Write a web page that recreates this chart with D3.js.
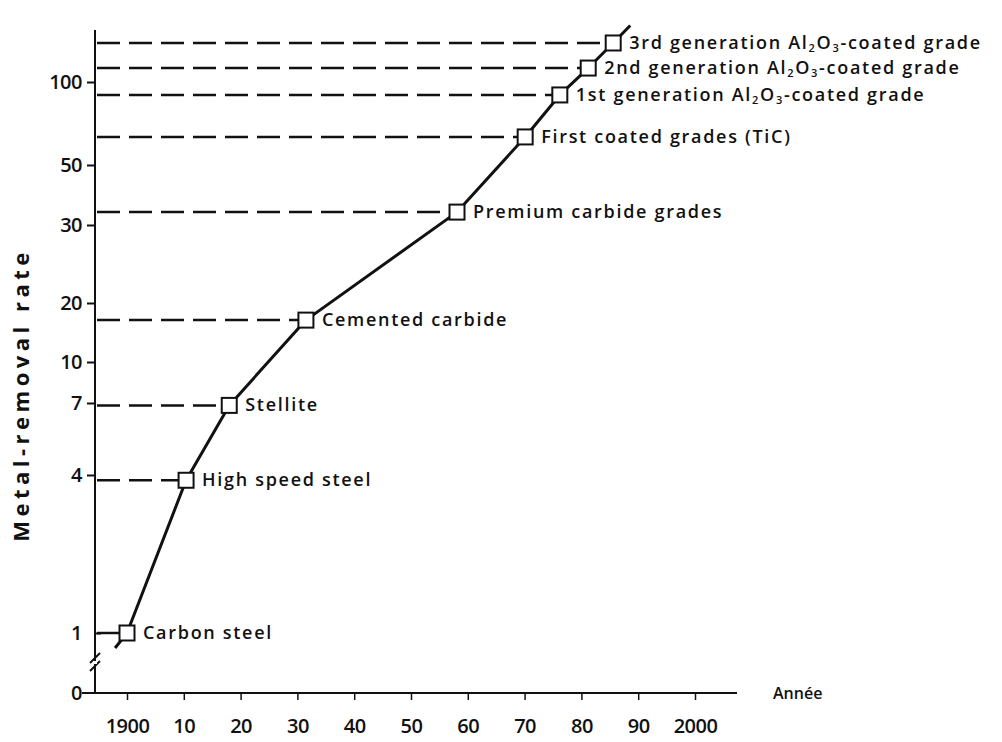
<!DOCTYPE html>
<html>
<head>
<meta charset="utf-8">
<script src="https://cdn.jsdelivr.net/npm/d3@7"></script>
<style>
  html, body { margin: 0; padding: 0; background: #fff; }
  svg { display: block; }
  text { font-family: "Open Sans", "DejaVu Sans", sans-serif; fill: #111; }
</style>
</head>
<body>
<svg id="chart" width="1002" height="742"></svg>
<script>
// ---- Data ----
const gradeNames = [
  "Carbon steel",
  "High speed steel",
  "Stellite",
  "Cemented carbide",
  "Premium carbide grades",
  "First coated grades (TiC)",
  "1st generation Al2O3-coated grade",
  "2nd generation Al2O3-coated grade",
  "3rd generation Al2O3-coated grade"
];
const gradeYears  = [1900, 1910.4, 1918, 1931.5, 1958.1, 1970.1, 1976.2, 1981.2, 1985.6];
const gradeValues = [1, 3.9, 6.9, 17.1, 34.3, 66.9, 92.2, 108.4, 123.5];

// trend line extends slightly beyond the first and last grade
const trendYears  = [1897.9, 1900, 1910.4, 1918, 1931.5, 1958.1, 1970.1, 1976.2, 1981.2, 1985.6, 1988.6];
const trendValues = [0.75, 1, 3.9, 6.9, 17.1, 34.3, 66.9, 92.2, 108.4, 123.5, 134];

const yTickValues = [0, 1, 4, 7, 10, 20, 30, 50, 100];
const xTickValues = [1900, 1910, 1920, 1930, 1940, 1950, 1960, 1970, 1980, 1990, 2000];
const xTickLabels = ["1900", "10", "20", "30", "40", "50", "60", "70", "80", "90", "2000"];

const yAxisTitle = "Metal-removal rate";
const xAxisTitle = "Année";

// ---- Layout ----
const svg = d3.select("#chart");
const axisX = 95;      // vertical axis position
const axisY = 693;     // horizontal axis position

const x = d3.scaleLinear().domain([1900, 2000]).range([127, 695]);
// the original axis is not uniform: piecewise scale through its tick marks
const y = d3.scaleLinear()
  .domain(yTickValues)
  .range([693, 633, 475, 403, 362, 303, 225, 165, 82]);

// ---- Axes ----
svg.append("line")
  .attr("x1", axisX).attr("x2", axisX)
  .attr("y1", 30).attr("y2", axisY)
  .attr("stroke", "#111").attr("stroke-width", 2);
// break marks
[658, 666].forEach(v => {
  svg.append("line")
    .attr("x1", axisX - 5).attr("y1", v + 5)
    .attr("x2", axisX + 5).attr("y2", v - 5)
    .attr("stroke", "#111").attr("stroke-width", 2);
});
svg.append("rect").attr("x", axisX - 2).attr("y", 661).attr("width", 4).attr("height", 3).attr("fill", "#fff");

const yAxis = d3.axisLeft(y).tickValues(yTickValues).tickSize(8).tickPadding(5)
  .tickFormat(d3.format("d"));
const gy = svg.append("g").attr("transform", `translate(${axisX},0)`).call(yAxis);
gy.select(".domain").remove();
gy.selectAll(".tick line").attr("stroke", "#111").attr("stroke-width", 2);
gy.selectAll(".tick text")
  .style("font-size", "20px").style("font-weight", "600")
  .style("letter-spacing", "-0.5px")
  .attr("fill", "#111");
gy.selectAll(".tick").filter(d => d === 1).select("line").attr("x2", 6);
gy.selectAll(".tick").filter(d => d === 0).select("line").remove();

// horizontal axis
svg.append("line")
  .attr("x1", 82).attr("x2", 737)
  .attr("y1", axisY).attr("y2", axisY)
  .attr("stroke", "#111").attr("stroke-width", 2);
const xAxis = d3.axisBottom(x).tickValues(xTickValues).tickSize(7).tickPadding(19)
  .tickFormat((d, i) => xTickLabels[i]);
const gx = svg.append("g").attr("transform", `translate(0,${axisY})`).call(xAxis);
gx.select(".domain").remove();
gx.selectAll(".tick line").attr("stroke", "#111").attr("stroke-width", 1.5);
gx.selectAll(".tick text")
  .style("font-size", "20px").style("font-weight", "600")
  .style("letter-spacing", "-0.5px")
  .attr("fill", "#111");

// axis titles
svg.append("text")
  .attr("transform", "translate(29,395) rotate(-90)")
  .attr("text-anchor", "middle")
  .style("font-size", "22px").style("font-weight", "700")
  .style("letter-spacing", "4.5px")
  .text(yAxisTitle);
svg.append("text")
  .attr("x", 773).attr("y", 699)
  .style("font-size", "16px").style("font-weight", "600")
  .text(xAxisTitle);

// ---- Marks ----
const pts = gradeNames.map((n, i) => ({ name: n, year: gradeYears[i], value: gradeValues[i] }));
const markerSize = 15;

// dashed reference lines
svg.append("g").selectAll("line").data(pts).join("line")
  .attr("x1", axisX + 2)
  .attr("x2", d => x(d.year) - markerSize / 2)
  .attr("y1", d => y(d.value)).attr("y2", d => y(d.value))
  .attr("stroke", "#111").attr("stroke-width", 2.5)
  .attr("stroke-dasharray", "23,9");

// trend line
const trend = trendYears.map((t, i) => [x(t), y(trendValues[i])]);
svg.append("path")
  .attr("d", d3.line()(trend))
  .attr("fill", "none").attr("stroke", "#111")
  .attr("stroke-width", 3).attr("stroke-linejoin", "round");

// markers
svg.append("g").selectAll("rect").data(pts).join("rect")
  .attr("x", d => x(d.year) - markerSize / 2)
  .attr("y", d => y(d.value) - markerSize / 2)
  .attr("width", markerSize).attr("height", markerSize)
  .attr("fill", "#fff").attr("stroke", "#111").attr("stroke-width", 2);

// labels
const labels = svg.append("g").selectAll("text").data(pts).join("text")
  .attr("x", d => x(d.year) + 16)
  .attr("y", d => y(d.value) + 6)
  .style("font-size", "18px").style("font-weight", "600")
  .style("letter-spacing", "1.7px");
labels.each(function(d) {
  const t = d3.select(this);
  const m = d.name.match(/^(.*)Al2O3(.*)$/);
  if (!m) { t.text(d.name); return; }
  t.append("tspan").text(m[1] + "Al");
  t.append("tspan").attr("dy", 3).style("font-size", "11px").text("2");
  t.append("tspan").attr("dy", -3).text("O");
  t.append("tspan").attr("dy", 3).style("font-size", "11px").text("3");
  t.append("tspan").attr("dy", -3).text(m[2]);
});
</script>
</body>
</html>
